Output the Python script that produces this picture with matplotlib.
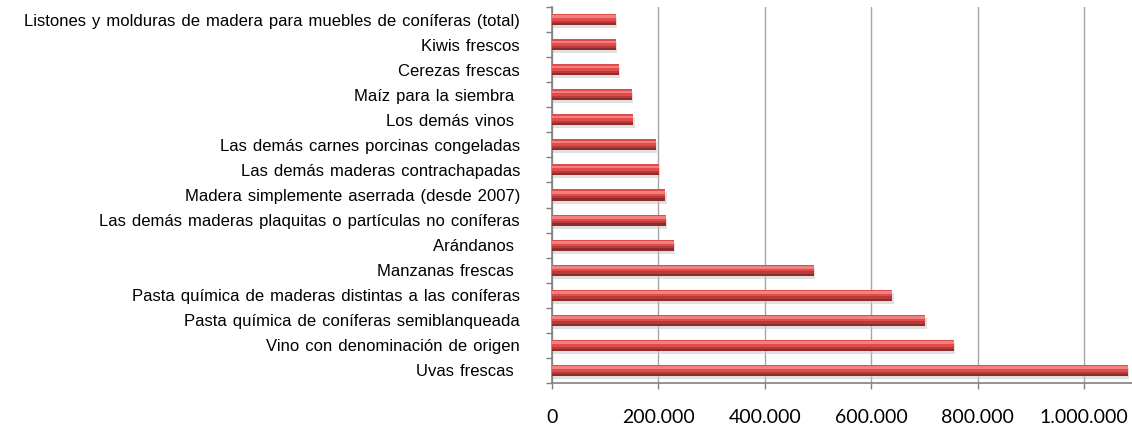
import matplotlib.pyplot as plt
import matplotlib.ticker as mticker
import numpy as np

# categorías (de abajo hacia arriba)
productos = [
    "Uvas frescas ",
    "Vino con denominación de origen",
    "Pasta química de coníferas semiblanqueada",
    "Pasta química de maderas distintas a las coníferas",
    "Manzanas frescas ",
    "Arándanos ",
    "Las demás maderas plaquitas o partículas no coníferas",
    "Madera simplemente aserrada (desde 2007)",
    "Las demás maderas contrachapadas",
    "Las demás carnes porcinas congeladas",
    "Los demás vinos ",
    "Maíz para la siembra ",
    "Cerezas frescas",
    "Kiwis frescos",
    "Listones y molduras de madera para muebles de coníferas (total)",
]
valores = [1082000, 755000, 702000, 640000, 492000, 229000, 214000, 213000,
           201000, 195000, 153000, 150000, 126000, 120000, 120000]
ticks_x = [0, 200000, 400000, 600000, 800000, 1000000]

def miles(v, pos=None):
    return f"{int(v):,}".replace(",", ".")

fig = plt.figure(figsize=(11.32, 4.30), dpi=100)
fig.patch.set_facecolor("white")
ax = fig.add_axes([552 / 1132, 47 / 430, 580 / 1132, 376 / 430])

y = np.arange(len(productos))
alto = 0.44

# sombra
ax.barh(y - 0.12, valores, height=alto, left=2500, color="#c8c8c8",
        alpha=0.55, edgecolor="none", zorder=2)
# cuerpo (parte baja oscura)
ax.barh(y, valores, height=alto, color="#8e2c2c", edgecolor="none", zorder=3)
# franja intermedia
ax.barh(y + alto * 0.1, valores, height=alto * 0.8, color="#b93a3a",
        edgecolor="none", zorder=4)
# mitad superior roja
ax.barh(y + alto * 0.2, valores, height=alto * 0.6, color="#e04b4b",
        edgecolor="none", zorder=5)
# brillo
ax.barh(y + alto * 0.25, valores, height=alto * 0.24, color="#f47f7f",
        edgecolor="none", zorder=6)

ax.set_xlim(0, 1090200)
ax.set_ylim(-0.5, len(productos) - 0.5)

ax.set_xticks(ticks_x)
ax.xaxis.set_major_formatter(mticker.FuncFormatter(miles))
ax.grid(axis="x", color="#a6a6a6", linewidth=1.0, zorder=0)
ax.set_axisbelow(True)

ax.set_yticks(y)
ax.set_yticklabels([p.replace(" ", " \u200a") for p in productos],
                   family=["Liberation Sans", "DejaVu Sans"], fontsize=12)
ax.set_yticks(np.arange(-0.5, len(productos), 1.0), minor=True)
ax.tick_params(axis="y", which="major", length=0, pad=23)
ax.tick_params(axis="y", which="minor", length=4, color="#808080", width=1)
ax.tick_params(axis="x", length=4, color="#808080", width=1, pad=15,
               labelsize=14)
for lab in ax.get_xticklabels():
    lab.set_family("Lato")

for lado in ["top", "right"]:
    ax.spines[lado].set_visible(False)
for lado in ["left", "bottom"]:
    ax.spines[lado].set_color("#808080")
    ax.spines[lado].set_linewidth(1.2)

fig.savefig("out.png", dpi=100, facecolor="white")
